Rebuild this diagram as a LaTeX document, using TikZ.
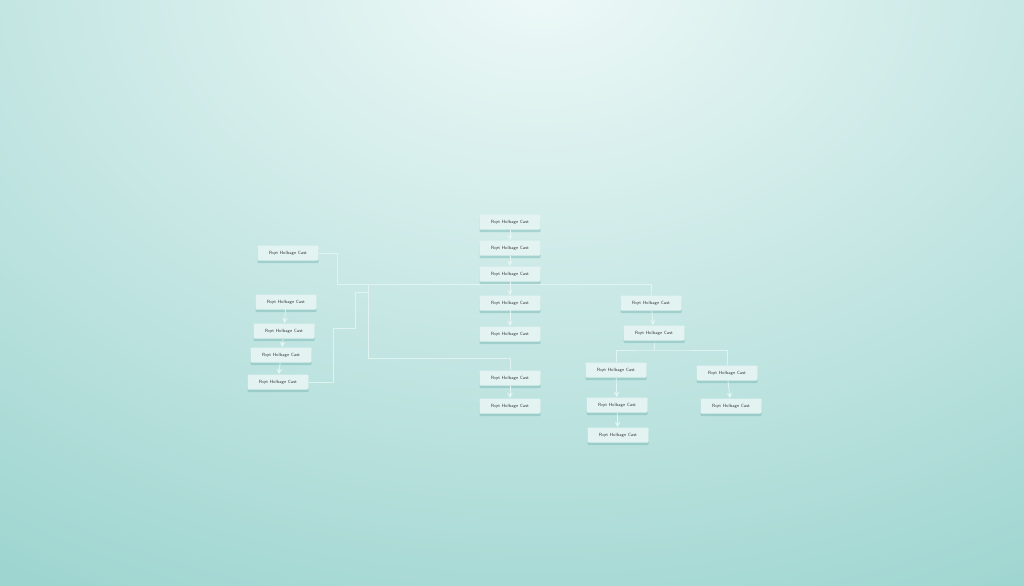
\documentclass[tikz,border=0pt]{standalone}
\usepackage{tikz}
\usetikzlibrary{shadows,backgrounds,arrows}
\newcommand\px{0.02}
\newcommand\cardtext{Rqrt Holbage Cast}
\definecolor{bgteal}{HTML}{9ED5D0}
\definecolor{bglight}{HTML}{EEF9F8}
\definecolor{cardfill}{HTML}{E2F3F2}
\definecolor{cardshade}{HTML}{7CBAB5}
\definecolor{linkcol}{HTML}{E6F6F4}
\pgfdeclarelayer{links}
\pgfsetlayers{background,links,main}
\tikzset{card/.style={rectangle, rounded corners=0.6pt, fill=cardfill, minimum width=61*\px cm, minimum height=15*\px cm, inner sep=0pt, font=\sffamily\fontsize{2.6}{3}\selectfont, text=black!75, drop shadow={shadow xshift=0pt, shadow yshift=-1.5pt, fill=cardshade, opacity=0.5}}}
\tikzset{link/.style={draw=linkcol, line width=0.5pt, opacity=0.85}}
\tikzset{arrow/.style={draw=linkcol, line width=0.4pt, ->, >=stealth}}

\begin{document}
\begin{tikzpicture}[x=\px cm, y=-\px cm]
\useasboundingbox (0,0) rectangle (1024,585);
\begin{pgfonlayer}{background}
\fill[bgteal] (-4,-4) rectangle (1028,589);
\begin{scope}
\clip (-4,-4) rectangle (1028,589);
\shade[inner color=bglight, outer color=bgteal] (540,-20) ellipse [x radius=1000, y radius=700];
\end{scope}
\end{pgfonlayer}
% cards
\foreach \nm/\x/\y in {l1/288/253, l2/286/302, l3/284/331, l4/281/355, l5/278/382,
  m1/510/222, m2/510/248, m3/510/274, m4/510/303, m5/510/334, m6/510/378, m7/510/406,
  r1/651/303, r2/654/333, r3/616/370, r4/617/405, r5/618/435, r6/727/373, r7/731/406} {
	\node[card] (\nm) at (\x,\y) {\cardtext};
}
% stacked arrows
\foreach \a/\b in {l2/l3, l3/l4, l4/l5, m1/m2, m2/m3, m3/m4, m4/m5, m6/m7, r1/r2, r3/r4, r4/r5, r6/r7} {
	\draw[arrow] (\a) -- (\b);
}
\coordinate (ja) at (337,284);
\coordinate (jb) at (368,284);
\coordinate (jc) at (368,358);
\coordinate (kb) at (333,328);
\coordinate (kc) at (355,292);
\coordinate (kd) at (368,292);
\coordinate (rb) at (654,350);
\begin{pgfonlayer}{links}
\draw[link] (l1.east) -| (ja) -- (jb);
\draw[link] (l5.east) -| (kb) -| (kc) -- (kd);
\draw[link] (r1.north) |- (jb) -- (jc) -| (m6.north);
\draw[link] (r2.south) -- (rb);
\draw[link] (r3.north) |- (rb) -| (r6.north);
\end{pgfonlayer}
\end{tikzpicture}
\end{document}
